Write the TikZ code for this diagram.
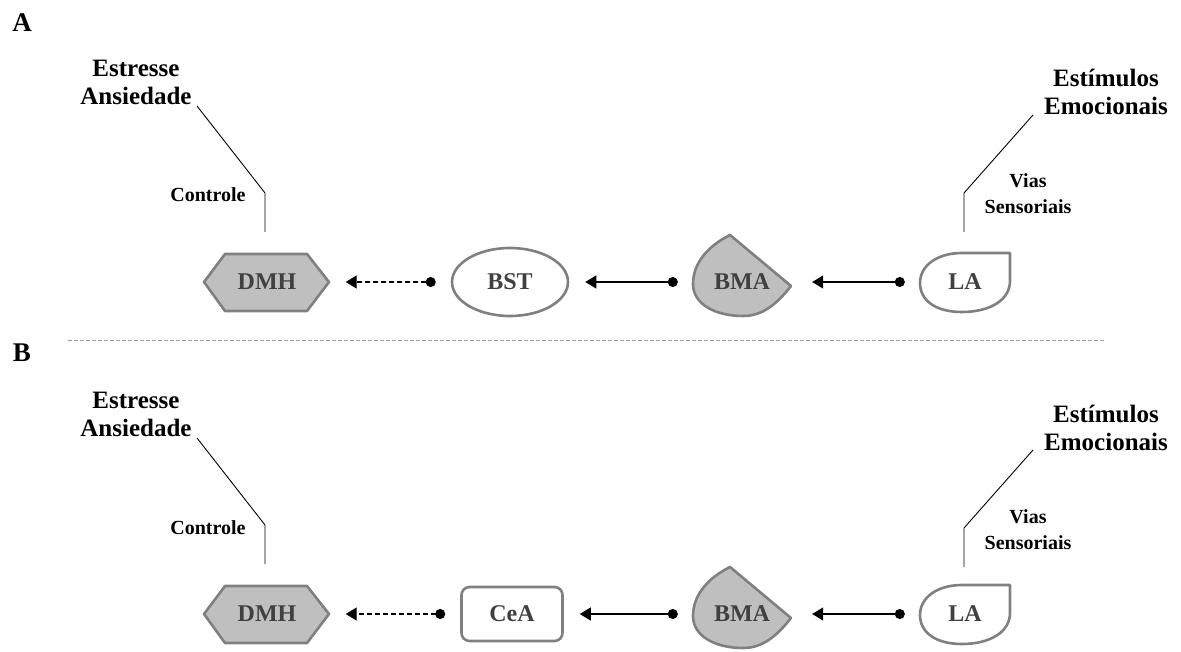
\documentclass[tikz,border=0pt]{standalone}
\usepackage{fontspec}
\setmainfont{Liberation Serif}
\usetikzlibrary{arrows.meta,shapes.geometric}
\definecolor{rgfill}{HTML}{BFBFBF}
\definecolor{rgline}{HTML}{808080}
\definecolor{rgtext}{HTML}{404040}
\definecolor{rgrule}{HTML}{9A9A9A}
\tikzset{
  region/.style={inner sep=0pt,minimum height=58pt,font=\fontsize{24}{28}\selectfont\bfseries,text=rgtext},
  outline/.style={draw=rgline,line width=2.6pt,line join=round},
  filled/.style={outline,fill=rgfill},
  hollow/.style={outline,fill=white},
  link/.style={{Circle[length=10pt]}-{Triangle[length=11pt,width=13pt]},line width=1.3pt,shorten <=15pt,shorten >=16pt},
  inhib/.style={link,dash pattern=on 5pt off 3pt},
  lead/.style={line width=.9pt},
  cue/.style={font=\fontsize{25}{28}\selectfont\bfseries,align=center,inner sep=0pt},
  tag/.style={font=\fontsize{20}{26}\selectfont\bfseries,align=center,inner sep=0pt},
  panel/.style={font=\fontsize{27}{30}\selectfont\bfseries,inner sep=0pt,anchor=base},
  divider/.style={draw=rgrule,line width=.8pt,dash pattern=on 4pt off 2pt},
}
\begin{document}
\begin{tikzpicture}[x=1pt,y=-1pt]
  \useasboundingbox (0,0) rectangle (1181,652);

  % panel A
  \node[panel] (tagA) at (22,32) {A};
  \draw[filled] (204,282) -- (225,254) -- (307,254) -- (329,282) -- (307,311) -- (225,311) -- cycle;
  \node[region,minimum width=125pt] (dmhA) at (267,282) {DMH};
  \node[region,ellipse,hollow,minimum width=116pt,minimum height=68pt] (bstA) at (510,282) {BST};
  \draw[filled] (730,235) -- (791,286) .. controls (776,305) and (762,316) .. (743,316)
    .. controls (715,316) and (693,304) .. (693,284) .. controls (693,263) and (708,246) .. (730,235) -- cycle;
  \node[region,minimum width=98pt] (bmaA) at (742,282) {BMA};
  \draw[hollow] (1010,253) -- (1010,281) .. controls (1010,300) and (990,312) .. (962,312)
    .. controls (935,312) and (920,300) .. (920,283) .. controls (920,265) and (938,253) .. (962,253) -- cycle;
  \node[region,minimum width=90pt] (laA) at (965,282) {LA};
  \draw[inhib] (bstA) -- (dmhA);
  \draw[link] (bmaA) -- (bstA);
  \draw[link,shorten >=21pt] (laA) -- (bmaA);

  \node[cue,anchor=north] (stressA) at (136,60) {Estresse\\Ansiedade};
  \node[tag,anchor=base] (controlA) at (208,202) {Controle};
  \coordinate (ctrlfootA) at (265,232);
  \coordinate (ctrlkneeA) at (265,193);
  \coordinate (stresstipA) at (197,106);
  \draw[lead] (ctrlfootA) -- (ctrlkneeA) -- (stresstipA);

  \node[cue,anchor=north] (stimA) at (1106,69) {Estímulos\\Emocionais};
  \node[tag,anchor=north] (sensA) at (1028,173) {Vias\\Sensoriais};
  \coordinate (sensfootA) at (964,232);
  \coordinate (sensekneeA) at (964,193);
  \coordinate (stimtipA) at (1033,115);
  \draw[lead] (sensfootA) -- (sensekneeA) -- (stimtipA);

  \draw[divider] (68,340) -- (1105,340);

  % panel B
  \begin{scope}[shift={(0,332)}]
    \node[panel] (tagB) at (22,30) {B};
    \draw[filled] (204,282) -- (225,254) -- (307,254) -- (329,282) -- (307,311) -- (225,311) -- cycle;
    \node[region,minimum width=125pt] (dmhB) at (267,282) {DMH};
    \node[region,hollow,rounded corners=8pt,minimum width=101pt,minimum height=54pt] (ceaB) at (512,282) {CeA};
    \draw[filled] (730,235) -- (791,286) .. controls (776,305) and (762,316) .. (743,316)
      .. controls (715,316) and (693,304) .. (693,284) .. controls (693,263) and (708,246) .. (730,235) -- cycle;
    \node[region,minimum width=98pt] (bmaB) at (742,282) {BMA};
    \draw[hollow] (1010,253) -- (1010,281) .. controls (1010,300) and (990,312) .. (962,312)
      .. controls (935,312) and (920,300) .. (920,283) .. controls (920,265) and (938,253) .. (962,253) -- cycle;
    \node[region,minimum width=90pt] (laB) at (965,282) {LA};
    \draw[inhib] (ceaB) -- (dmhB);
    \draw[link] (bmaB) -- (ceaB);
    \draw[link,shorten >=21pt] (laB) -- (bmaB);

    \node[cue,anchor=north] (stressB) at (136,60) {Estresse\\Ansiedade};
    \node[tag,anchor=base] (controlB) at (208,202) {Controle};
    \coordinate (ctrlfootB) at (265,232);
    \coordinate (ctrlkneeB) at (265,193);
    \coordinate (stresstipB) at (197,106);
    \draw[lead] (ctrlfootB) -- (ctrlkneeB) -- (stresstipB);

    \node[cue,anchor=north] (stimB) at (1106,73) {Estímulos\\Emocionais};
    \node[tag,anchor=north] (sensB) at (1028,177) {Vias\\Sensoriais};
    \coordinate (sensfootB) at (964,235);
    \coordinate (sensekneeB) at (964,196);
    \coordinate (stimtipB) at (1033,118);
    \draw[lead] (sensfootB) -- (sensekneeB) -- (stimtipB);
  \end{scope}
\end{tikzpicture}
\end{document}
